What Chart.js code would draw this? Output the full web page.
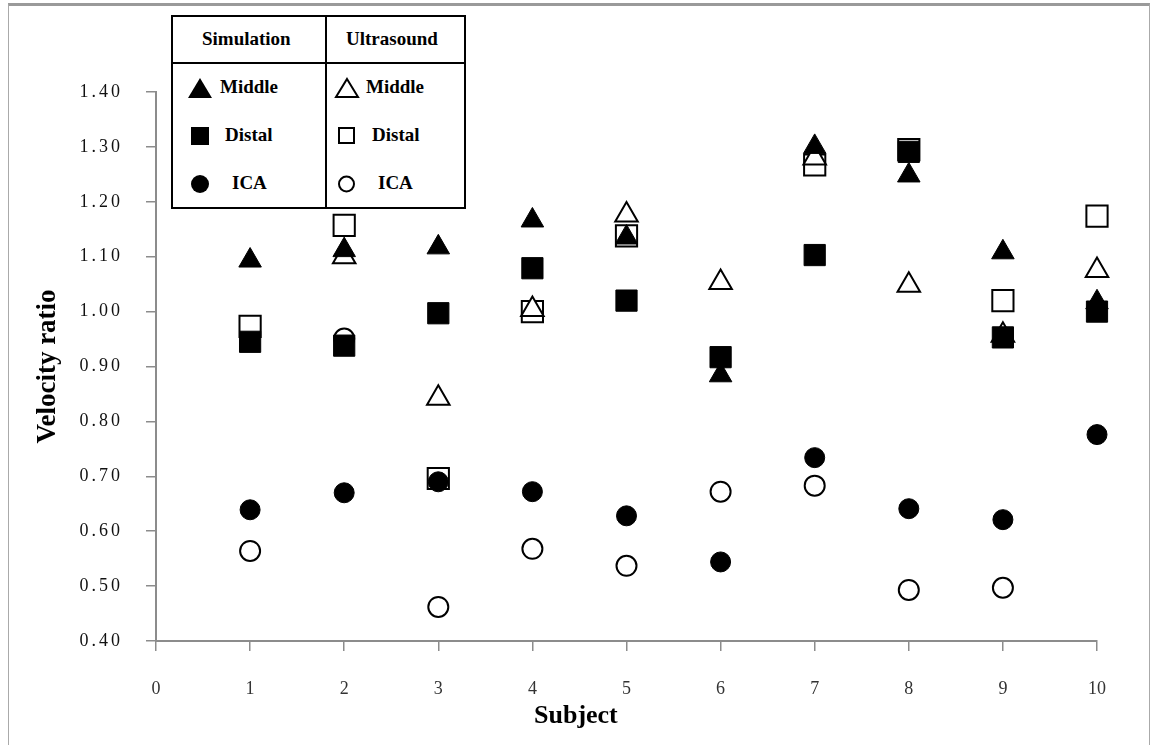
<!DOCTYPE html>
<html>
<head>
<meta charset="utf-8">
<script src="https://cdn.jsdelivr.net/npm/chart.js@4"></script>
<style>
  html, body { margin: 0; padding: 0; background: #fff; }
  body { width: 1154px; height: 745px; position: relative; overflow: hidden; font-family: "Liberation Serif", serif; }
  #frame { position: absolute; left: 8px; top: 3px; width: 1140px; height: 760px;
           border-top: 3px solid #9a9a9a; border-left: 1px solid #aaa; border-right: 1px solid #aaa; }
  #chart { position: absolute; left: 0; top: 0; }
  .lg { position: absolute; font-weight: bold; font-size: 19px; color: #000; white-space: nowrap; }
  .mk { position: absolute; }
  #legendBox { position: absolute; left: 171px; top: 15px; width: 291px; height: 190px; border: 2px solid #000; background: #fff; }
  #hline { position: absolute; left: 171px; top: 62px; width: 295px; height: 2px; background: #000; }
  #vline { position: absolute; left: 325px; top: 15px; width: 2px; height: 193px; background: #000; }
  #xtitle { position: absolute; left: 534px; top: 700px; font-weight: bold; font-size: 26px; }
</style>
</head>
<body>
<div id="frame"></div>
<canvas id="chart" width="1154" height="745"></canvas>

<div id="legendBox"></div>
<div id="hline"></div>
<div id="vline"></div>
<div class="lg" style="left:202px; top:28px;">Simulation</div>
<div class="lg" style="left:346px; top:28px;">Ultrasound</div>

<svg class="mk" style="left:186px; top:76px;" width="28" height="24"><polygon points="14,2 26,22 2,22" fill="#000"/></svg>
<div class="lg" style="left:220px; top:76px;">Middle</div>
<svg class="mk" style="left:190px; top:126px;" width="20" height="20"><rect x="1" y="1" width="18" height="18" fill="#000"/></svg>
<div class="lg" style="left:225px; top:124px;">Distal</div>
<svg class="mk" style="left:190px; top:174px;" width="20" height="20"><circle cx="10" cy="10" r="9" fill="#000"/></svg>
<div class="lg" style="left:232px; top:172px;">ICA</div>

<svg class="mk" style="left:333px; top:76px;" width="28" height="24"><polygon points="14,3 25,21 3,21" fill="#fff" stroke="#000" stroke-width="2"/></svg>
<div class="lg" style="left:366px; top:76px;">Middle</div>
<svg class="mk" style="left:337px; top:126px;" width="20" height="20"><rect x="2" y="2" width="15" height="15" fill="#fff" stroke="#000" stroke-width="2"/></svg>
<div class="lg" style="left:372px; top:124px;">Distal</div>
<svg class="mk" style="left:337px; top:174px;" width="20" height="20"><circle cx="9.5" cy="10" r="7.5" fill="#fff" stroke="#000" stroke-width="2"/></svg>
<div class="lg" style="left:378px; top:172px;">ICA</div>

<div id="xtitle">Subject</div>

<script>
// 被験者番号
let subjects = [1, 2, 3, 4, 5, 6, 7, 8, 9, 10];

// シミュレーション
let simMiddle = [1.093, 1.112, 1.117, 1.166, 1.135, 0.884, 1.300, 1.248, 1.108, 1.017];
let simDistal = [0.945, 0.938, 0.997, 1.079, 1.020, 0.917, 1.103, 1.291, 0.953, 1.000];
let simICA = [0.639, 0.670, 0.690, 0.672, 0.628, 0.544, 0.734, 0.641, 0.621, 0.776];

// 超音波 (null = 見えない点)
let usMiddle = [null, 1.100, 0.842, 1.004, 1.176, 1.053, 1.280, 1.048, 0.957, 1.075];
let usDistal = [0.973, 1.157, 0.696, 1.000, 1.138, null, 1.267, 1.295, 1.020, 1.174];
let usICA = [0.564, 0.951, 0.462, 0.568, 0.537, 0.672, 0.683, 0.493, 0.497, null];

// 目盛
let yTicks = ['0.40', '0.50', '0.60', '0.70', '0.80', '0.90', '1.00', '1.10', '1.20', '1.30', '1.40'];
let xTicks = ['0', '1', '2', '3', '4', '5', '6', '7', '8', '9', '10'];

function toPoints(values) {
  let pts = [];
  for (let i = 0; i < subjects.length; i++) {
    if (values[i] !== null) pts.push({ x: subjects[i], y: values[i] });
  }
  return pts;
}

function filled(label, values, style, r) {
  return { label: label, data: toPoints(values), pointStyle: style, pointRadius: r, pointHoverRadius: r,
    backgroundColor: '#000', borderColor: '#000', borderWidth: 1, showLine: false, clip: false };
}
function open(label, values, style, r) {
  return { label: label, data: toPoints(values), pointStyle: style, pointRadius: r, pointHoverRadius: r,
    backgroundColor: '#fff', borderColor: '#000', borderWidth: 2, showLine: false, clip: false };
}

// y軸の数字は字間が広い
function spacedLabels(s) {
  if (s._spaced) return;
  s._spaced = true;
  let orig = s.drawLabels.bind(s);
  s.drawLabels = function (area) {
    s.ctx.save();
    s.ctx.letterSpacing = '3px';
    orig(area);
    s.ctx.restore();
  };
}

let ctx = document.getElementById('chart');
let chart = new Chart(ctx, {
  type: 'scatter',
  data: {
    // 先頭のデータセットが一番上に描かれる
    datasets: [
      filled('Simulation Middle', simMiddle, 'triangle', 13),
      filled('Simulation Distal', simDistal, 'rect', 15),
      filled('Simulation ICA', simICA, 'circle', 10),
      open('Ultrasound Middle', usMiddle, 'triangle', 13),
      open('Ultrasound Distal', usDistal, 'rect', 15),
      open('Ultrasound ICA', usICA, 'circle', 10)
    ]
  },
  options: {
    responsive: false,
    animation: false,
    layout: { padding: { top: 92, right: 57, bottom: 0, left: 0 } },
    plugins: { legend: { display: false }, tooltip: { enabled: false } },
    scales: {
      x: {
        type: 'linear', min: 0, max: 10,
        afterFit: (s) => { s.height = 104; },
        afterBuildTicks: (s) => { s.ticks = xTicks.map((t) => ({ value: Number(t) })); },
        ticks: { padding: 27, color: '#333', font: { family: 'Liberation Serif', size: 18 }, callback: (v) => xTicks[v] },
        grid: { drawOnChartArea: false, tickLength: 10, color: '#8c8c8c', lineWidth: 1.5 },
        border: { color: '#8c8c8c', width: 2 }
      },
      y: {
        type: 'linear', min: 0.4, max: 1.4,
        afterFit: (s) => { s.width = 156; spacedLabels(s); },
        afterBuildTicks: (s) => { s.ticks = yTicks.map((t) => ({ value: Number(t) })); },
        ticks: { padding: 23, color: '#111', font: { family: 'Liberation Serif', size: 18 }, callback: (v) => Number(v).toFixed(2) },
        grid: { drawOnChartArea: false, tickLength: 10, color: '#8c8c8c', lineWidth: 1.5 },
        border: { color: '#8c8c8c', width: 2 },
        title: { display: true, text: 'Velocity ratio', color: '#000',
          font: { family: 'Liberation Serif', size: 27, weight: 'bold' }, padding: { top: 32, bottom: 0 } }
      }
    }
  }
});
</script>
</body>
</html>
